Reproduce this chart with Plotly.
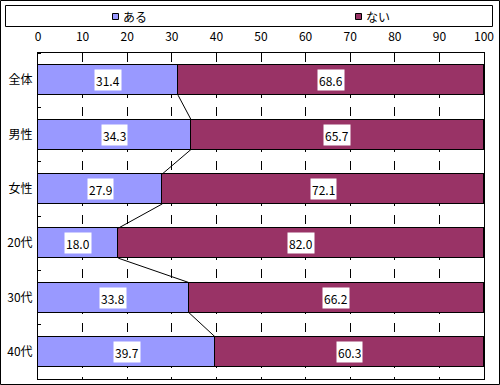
import plotly.graph_objects as go

categories = ["全体", "男性", "女性", "20代", "30代", "40代"]
series_names = ["ある", "ない"]
series_colors = ["#9999FF", "#993366"]
aru = [31.4, 34.3, 27.9, 18.0, 33.8, 39.7]
nai = [68.6, 65.7, 72.1, 82.0, 66.2, 60.3]
x_ticks = [0, 10, 20, 30, 40, 50, 60, 70, 80, 90, 100]

W, H = 500, 385
L, R, T, B = 38, 16, 53, 6
pw, ph = W - L - R, H - T - B
bw = 0.552
FONT = "MS PGothic, Noto Sans CJK JP, sans-serif"

def px_x(p):
    return (p - L) / pw

def px_y(p):
    return 1 - (p - T) / ph

ypos = list(range(len(categories)))

fig = go.Figure()
for vals, name, col in zip([aru, nai], series_names, series_colors):
    fig.add_trace(go.Bar(y=ypos, x=vals, orientation="h", name=name, width=bw,
                         showlegend=False,
                         marker=dict(color=col, line=dict(color="black", width=1))))

# series lines
lx, ly = [], []
for i in range(len(aru) - 1):
    lx += [aru[i], aru[i + 1], None]
    ly += [i + bw / 2, i + 1 - bw / 2, None]
fig.add_trace(go.Scatter(x=lx, y=ly, mode="lines", line=dict(color="black", width=1),
                         showlegend=False, hoverinfo="skip"))

ann = []
for i in range(len(categories)):
    ann.append(dict(x=aru[i] / 2, y=i, text=f"{aru[i]:.1f}", showarrow=False, height=18,
                    bgcolor="white", borderpad=1, font=dict(size=12, color="black", family=FONT)))
    ann.append(dict(x=aru[i] + nai[i] / 2, y=i, text=f"{nai[i]:.1f}", showarrow=False, height=18,
                    bgcolor="white", borderpad=1, font=dict(size=12, color="black", family=FONT)))

shapes = [
    dict(type="rect", xref="paper", yref="paper", x0=px_x(0.5), x1=px_x(499.5),
         y0=px_y(384.5), y1=px_y(0.5), line=dict(color="black", width=1), layer="below"),
    dict(type="rect", xref="paper", yref="paper", x0=px_x(5.5), x1=px_x(492.5),
         y0=px_y(26.5), y1=px_y(5.5), line=dict(color="black", width=1), layer="below"),
]

# legend (manual, to match the small square keys)
leg_x = [112, 355]
for lxp, name, col in zip(leg_x, series_names, series_colors):
    shapes.append(dict(type="rect", xref="paper", yref="paper",
                       x0=px_x(lxp + 0.5), x1=px_x(lxp + 6.5), y0=px_y(19.5), y1=px_y(13.5),
                       fillcolor=col, line=dict(color="black", width=1)))
    ann.append(dict(xref="paper", yref="paper", x=px_x(lxp + 9), y=px_y(16.5),
                    xanchor="left", yanchor="middle", text=name, showarrow=False,
                    font=dict(size=12, color="black", family=FONT)))

fig.update_layout(
    width=W, height=H,
    margin=dict(l=L, r=R, t=T, b=B, autoexpand=False),
    barmode="stack",
    bargap=0,
    paper_bgcolor="white", plot_bgcolor="white",
    font=dict(family=FONT, size=12, color="black"),
    showlegend=False,
    annotations=ann,
    shapes=shapes,
    xaxis=dict(range=[0, 100], side="top", tickvals=x_ticks, ticktext=[str(v) for v in x_ticks],
               showgrid=True, gridcolor="black", griddash="dash", gridwidth=1,
               showline=True, linecolor="black", linewidth=1, mirror=True, automargin=False,
               ticks="", zeroline=False, ticklabelstandoff=6, tickfont=dict(size=12, family=FONT)),
    yaxis=dict(range=[5.5, -0.5], tickvals=ypos, ticktext=categories, automargin=False,
               showgrid=False, showline=True, linecolor="black", linewidth=1, mirror=True,
               ticks="", zeroline=False, ticklabelstandoff=2, tickfont=dict(size=12, family=FONT),
               minor=dict(tick0=0.5, dtick=1, ticks="inside", ticklen=3, tickcolor="black", showgrid=False)),
)

fig.write_html("out.html", config={"displayModeBar": False},
               post_script="document.body.style.margin='0';document.body.style.overflow='hidden';")
